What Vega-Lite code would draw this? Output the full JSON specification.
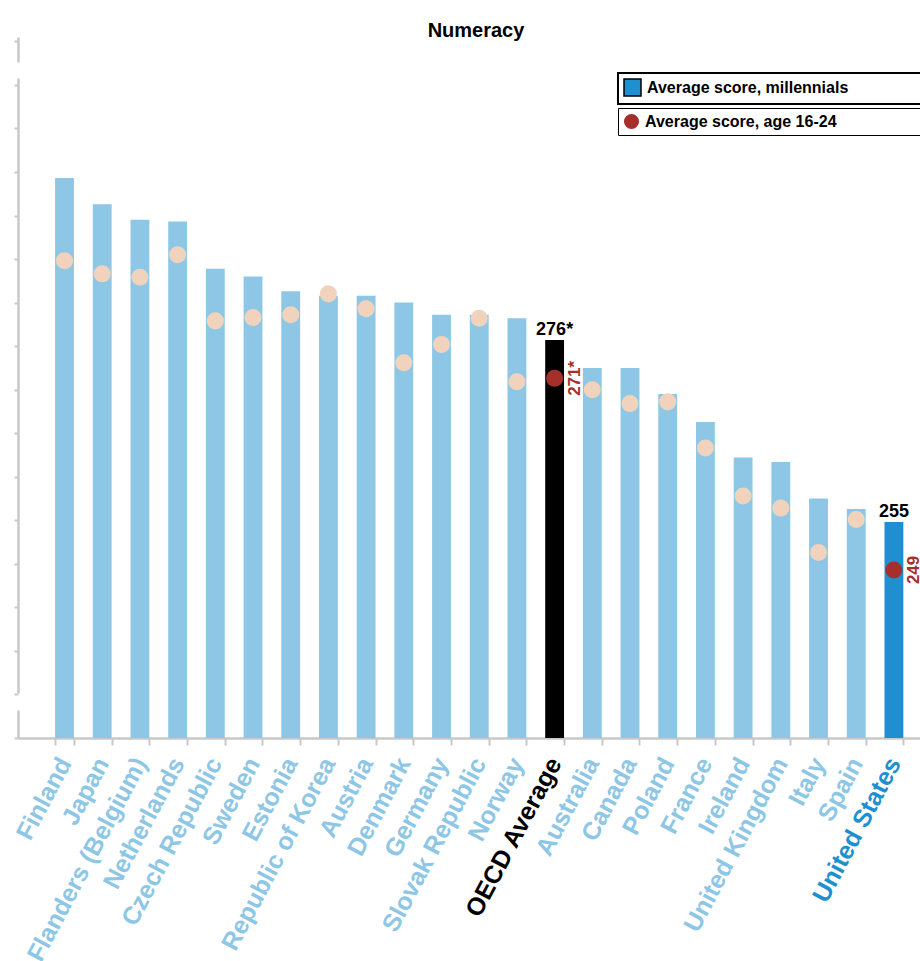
{
  "$schema": "https://vega.github.io/schema/vega-lite/v6.json",
  "width": 902,
  "height": 701,
  "autosize": "none",
  "padding": {"left": 18, "top": 37, "right": 0, "bottom": 223},
  "background": "white",
  "title": {"text": "Numeracy", "font": "Liberation Sans", "fontSize": 20, "fontWeight": "bold", "color": "black", "anchor": "middle", "offset": -4, "dx": 7},
  "data": {"values": [
    {"country": "Finland", "millennials": 294.3, "age1624": 284.8, "group": "Country"},
    {"country": "Japan", "millennials": 291.3, "age1624": 283.3, "group": "Country"},
    {"country": "Flanders (Belgium)", "millennials": 289.5, "age1624": 282.9, "group": "Country"},
    {"country": "Netherlands", "millennials": 289.3, "age1624": 285.5, "group": "Country"},
    {"country": "Czech Republic", "millennials": 283.9, "age1624": 277.9, "group": "Country"},
    {"country": "Sweden", "millennials": 283.0, "age1624": 278.3, "group": "Country"},
    {"country": "Estonia", "millennials": 281.3, "age1624": 278.6, "group": "Country"},
    {"country": "Republic of Korea", "millennials": 280.8, "age1624": 281.0, "group": "Country"},
    {"country": "Austria", "millennials": 280.8, "age1624": 279.3, "group": "Country"},
    {"country": "Denmark", "millennials": 280.0, "age1624": 273.1, "group": "Country"},
    {"country": "Germany", "millennials": 278.6, "age1624": 275.2, "group": "Country"},
    {"country": "Slovak Republic", "millennials": 278.6, "age1624": 278.2, "group": "Country"},
    {"country": "Norway", "millennials": 278.2, "age1624": 270.9, "group": "Country"},
    {"country": "OECD Average", "millennials": 275.7, "age1624": 271.3, "group": "OECD", "barLabel": "276*", "dotLabel": "271*"},
    {"country": "Australia", "millennials": 272.5, "age1624": 270.0, "group": "Country"},
    {"country": "Canada", "millennials": 272.5, "age1624": 268.4, "group": "Country"},
    {"country": "Poland", "millennials": 269.5, "age1624": 268.6, "group": "Country"},
    {"country": "France", "millennials": 266.3, "age1624": 263.3, "group": "Country"},
    {"country": "Ireland", "millennials": 262.2, "age1624": 257.8, "group": "Country"},
    {"country": "United Kingdom", "millennials": 261.7, "age1624": 256.4, "group": "Country"},
    {"country": "Italy", "millennials": 257.5, "age1624": 251.3, "group": "Country"},
    {"country": "Spain", "millennials": 256.3, "age1624": 255.1, "group": "Country"},
    {"country": "United States", "millennials": 254.8, "age1624": 249.3, "group": "United States", "barLabel": "255", "dotLabel": "249"}
  ]},
  "encoding": {
    "x": {
      "field": "country", "type": "nominal", "sort": null,
      "scale": {"paddingInner": 0.5, "paddingOuter": 0.713, "align": 0.69},
      "axis": {
        "title": null, "labelAngle": -62, "labelAlign": "right", "labelBaseline": "middle",
        "labelFont": "Liberation Sans", "labelFontSize": 25, "labelFontWeight": "bold",
        "labelLimit": 400, "labelOverlap": false, "labelPadding": 14,
        "tickBand": "extent", "tickSize": 7, "tickWidth": 2, "tickColor": "#c8c8c8",
        "domainColor": "#c8c8c8", "domainWidth": 2.5, "grid": false,
        "labelColor": {
          "condition": [
            {"test": "datum.value === 'OECD Average'", "value": "#000000"},
            {"test": "datum.value === 'United States'", "value": "#1e8fd0"}
          ],
          "value": "#8dc7e5"
        }
      }
    }
  },
  "layer": [
    {
      "mark": {"type": "bar"},
      "encoding": {
        "y": {
          "field": "millennials", "type": "quantitative", "title": null,
          "scale": {"domain": [230, 310.5], "zero": false, "nice": false}
        },
        "y2": {"datum": 230},
        "color": {
          "field": "group", "type": "nominal",
          "scale": {"domain": ["United States", "OECD", "Country"], "range": ["#1e8fd0", "#000000", "#8dc7e5"]},
          "legend": {
            "orient": "none", "legendX": 600, "legendY": 36, "title": null,
            "values": ["United States"],
            "labelExpr": "'Average score, millennials\u00a0\u00a0\u00a0\u00a0\u00a0\u00a0\u00a0\u00a0\u00a0\u00a0\u00a0\u00a0\u00a0\u00a0\u00a0\u00a0\u00a0\u00a0\u00a0\u00a0\u2800'",
            "symbolType": "square", "symbolSize": 289,
            "labelFont": "Liberation Sans", "labelFontSize": 16, "labelFontWeight": "bold", "labelColor": "black",
            "labelLimit": 500, "labelOffset": 5, "padding": 5,
            "strokeColor": "black",
            "encode": {
              "legend": {"update": {"strokeWidth": {"value": 2}}},
              "symbols": {"update": {"stroke": {"value": "black"}, "strokeWidth": {"value": 1.5}}}
            }
          }
        }
      }
    },
    {
      "mark": {"type": "circle", "size": 290, "opacity": 1},
      "encoding": {
        "y": {"field": "age1624", "type": "quantitative", "title": null},
        "color": {
          "field": "group", "type": "nominal",
          "scale": {"domain": ["United States", "OECD", "Country"], "range": ["#a52f2b", "#a52f2b", "#f1d3bd"]},
          "legend": {
            "orient": "none", "legendX": 600, "legendY": 71, "title": null,
            "values": ["United States"],
            "labelExpr": "'Average score, age 16-24\u00a0\u00a0\u00a0\u00a0\u00a0\u00a0\u00a0\u00a0\u00a0\u00a0\u00a0\u00a0\u00a0\u00a0\u00a0\u00a0\u00a0\u00a0\u00a0\u00a0\u00a0\u00a0\u00a0\u2800'",
            "symbolType": "circle", "symbolSize": 227,
            "labelFont": "Liberation Sans", "labelFontSize": 16, "labelFontWeight": "bold", "labelColor": "black",
            "labelLimit": 500, "labelOffset": 5, "padding": 5,
            "strokeColor": "black",
            "encode": {
              "legend": {"update": {"strokeWidth": {"value": 2}}},
              "symbols": {"update": {"stroke": {"value": "black"}, "strokeWidth": {"value": 1.5}}}
            }
          }
        }
      }
    },
    {
      "transform": [{"filter": "datum.barLabel != null"}],
      "mark": {"type": "text", "font": "Liberation Sans", "fontSize": 18, "fontWeight": "bold", "color": "black", "baseline": "alphabetic", "align": "center", "dy": -5},
      "encoding": {
        "y": {"field": "millennials", "type": "quantitative", "title": null},
        "text": {"field": "barLabel"}
      }
    },
    {
      "transform": [{"filter": "datum.dotLabel != null"}],
      "mark": {"type": "text", "font": "Liberation Sans", "fontSize": 17, "fontWeight": "bold", "color": "#a52f2b", "baseline": "middle", "align": "center", "angle": 270, "dy": 20},
      "encoding": {
        "y": {"field": "age1624", "type": "quantitative", "title": null},
        "text": {"field": "dotLabel"}
      }
    }
  ],
  "resolve": {"scale": {"color": "independent"}},
  "config": {
    "view": {"stroke": null},
    "font": "Liberation Sans",
    "axisY": {"labels": false, "values": [240, 250, 260, 270, 280, 290, 300, 310],
      "tickSize": 4, "tickWidth": 2, "tickColor": "#c8c8c8",
      "domainColor": "#c8c8c8", "domainWidth": 2.5, "domainDash": [28, 17, 615, 16, 25, 100], "grid": false}
  }
}
